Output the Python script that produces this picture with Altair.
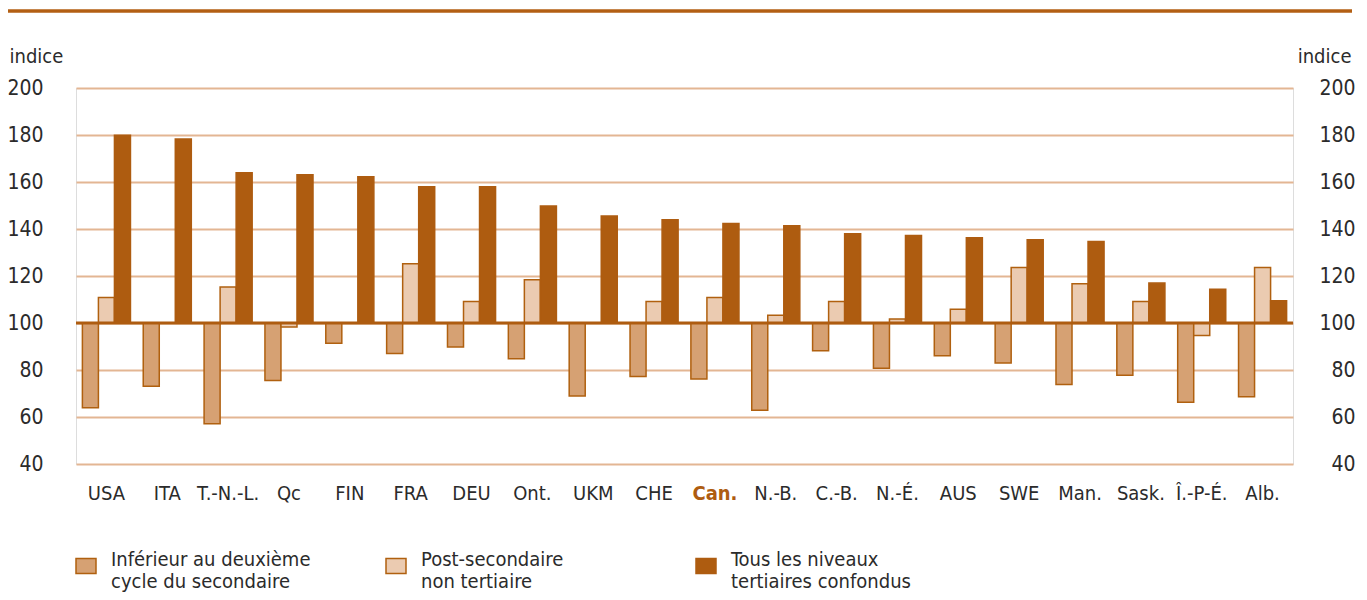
import altair as alt
import pandas as pd

categories = ["USA", "ITA", "T.-N.-L.", "Qc", "FIN", "FRA", "DEU", "Ont.", "UKM", "CHE",
              "Can.", "N.-B.", "C.-B.", "N.-É.", "AUS", "SWE", "Man.", "Sask.", "Î.-P-É.", "Alb."]
series_names = ["Inférieur au deuxième\ncycle du secondaire",
                "Post-secondaire\nnon tertiaire",
                "Tous les niveaux\ntertiaires confondus"]
low = [63.9, 73.1, 57.1, 75.5, 91.4, 87.0, 89.8, 84.8, 68.9, 77.2,
       76.2, 62.9, 88.2, 80.7, 86.1, 83.0, 73.8, 77.8, 66.3, 68.6]
post = [110.9, None, 115.3, 98.3, None, 125.2, 109.2, 118.4, None, 109.2,
        110.9, 103.3, 109.2, 101.7, 105.9, 123.6, 116.7, 109.2, 94.7, 123.6]
tert = [179.9, 178.3, 163.9, 163.1, 162.2, 158.0, 158.0, 149.8, 145.5, 143.9,
        142.3, 141.4, 138.0, 137.2, 136.3, 135.4, 134.7, 117.0, 114.4, 109.5]
y_ticks = [40, 60, 80, 100, 120, 140, 160, 180, 200]
fills = ["#D6A173", "#EBCBB1", "#AE5C10"]
strokes = ["#B0600F", "#B0600F", "#AE5C10"]

rows = []
for name, vals in zip(series_names, [low, post, tert]):
    for c, v in zip(categories, vals):
        if v is not None:
            rows.append({"category": c, "series": name, "value": v})
df = pd.DataFrame(rows)

FONT = "Liberation Sans Narrow, DejaVu Sans Condensed, sans-serif"
TXT = "#2b2b2b"


def make_legend():
    return alt.Legend(title=None, orient="none", legendX=-1, legendY=467,
                      direction="horizontal", columns=3, gridAlign="all",
                      columnPadding=72, labelOffset=14, labelFontSize=20,
                      labelFont=FONT, labelColor=TXT, labelLimit=400,
                      labelBaseline="alphabetic",
                      labelExpr="split(datum.label, '\\n')",
                      symbolType="M-1,-0.75H1V0.75H-1Z", symbolSize=400,
                      symbolStrokeWidth=1.5, padding=0)


bars = alt.Chart(df).mark_bar(strokeWidth=1.5).encode(
    x=alt.X("category:N", sort=categories,
            scale=alt.Scale(paddingInner=0.21, paddingOuter=0.105),
            axis=alt.Axis(title=None, labelAngle=0, domain=False, ticks=False,
                          labelPadding=29, labelFontSize=20, labelFont=FONT,
                          labelBaseline="middle",
                          labelColor=alt.condition("datum.value == 'Can.'",
                                                   alt.value("#AE5C10"), alt.value(TXT)),
                          labelFontWeight=alt.condition("datum.value == 'Can.'",
                                                        alt.value("bold"), alt.value("normal")))),
    xOffset=alt.XOffset("series:N", sort=series_names,
                        scale=alt.Scale(domain=series_names, paddingInner=0, paddingOuter=0)),
    y=alt.Y("value:Q", scale=alt.Scale(domain=[40, 200], nice=False, zero=False),
            axis=alt.Axis(values=y_ticks, grid=True, gridColor="#E3B693", gridWidth=2,
                          domain=False, ticks=False, labelPadding=33, labelFontSize=21,
                          labelFont=FONT, labelColor=TXT,
                          title="indice", titleAngle=0, titleX=-67, titleY=-26,
                          titleAlign="left", titleBaseline="alphabetic",
                          titleFontWeight="normal", titleFontSize=20, titleFont=FONT,
                          titleColor=TXT)),
    y2=alt.datum(100),
    fill=alt.Fill("series:N", sort=series_names,
                  scale=alt.Scale(domain=series_names, range=fills),
                  legend=make_legend()),
    stroke=alt.Stroke("series:N", sort=series_names,
                      scale=alt.Scale(domain=series_names, range=strokes),
                      legend=make_legend()),
)

baseline = alt.Chart(pd.DataFrame({"v": [100]})).mark_rule(
    color="#AE5C10", strokeWidth=3
).encode(
    y=alt.Y("v:Q", scale=alt.Scale(domain=[40, 200], nice=False, zero=False),
            axis=alt.Axis(orient="right", values=y_ticks, grid=False, domain=False,
                          ticks=False, labelPadding=62, labelAlign="right",
                          labelFontSize=21, labelFont=FONT, labelColor=TXT,
                          title="indice", titleAngle=0, titleX=58, titleY=-26,
                          titleAlign="right", titleBaseline="alphabetic",
                          titleFontWeight="normal", titleFontSize=20, titleFont=FONT,
                          titleColor=TXT))
)

top_rule = alt.Chart(pd.DataFrame({"a": [0]})).mark_rule(
    color="#B35F13", strokeWidth=3.5
).encode(x=alt.value(-68), x2=alt.value(1276), y=alt.value(-77))

chart = alt.layer(bars, baseline, top_rule).resolve_scale(y="independent").properties(
    width=1217, height=376,
    autosize=alt.AutoSizeParams(type="none"),
    padding={"left": 68, "top": 80, "right": 66, "bottom": 128},
).configure_view(stroke=None).configure(font=FONT)

chart.save("out.html", embed_options={"renderer": "svg", "actions": False})
